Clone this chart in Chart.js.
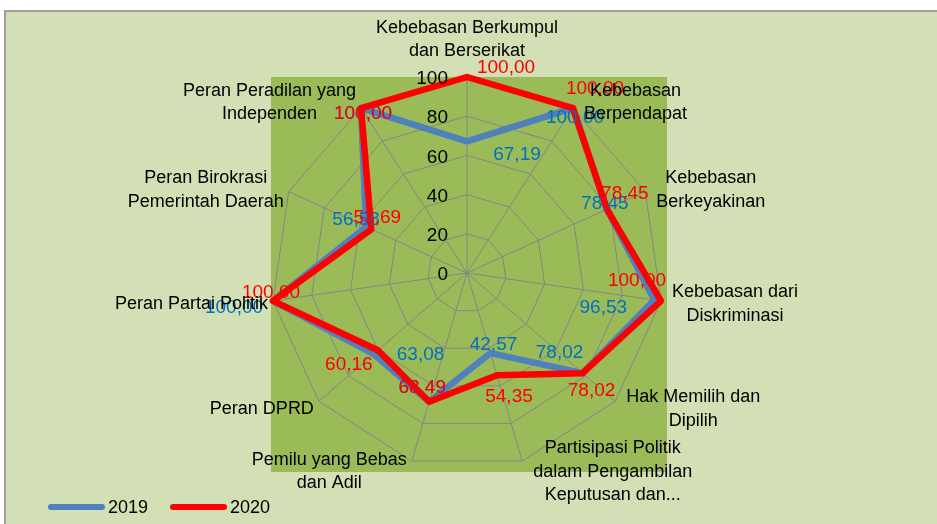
<!DOCTYPE html>
<html>
<head>
<meta charset="utf-8">
<script src="https://cdn.jsdelivr.net/npm/chart.js@4/dist/chart.umd.min.js"></script>
<style>
  html, body { margin: 0; padding: 0; background: #ffffff; }
  #wrap { width: 937px; height: 524px; }
</style>
</head>
<body>
<div id="wrap"><canvas id="radarChart" width="937" height="524"></canvas></div>
<script>
// categories (clockwise from the top), split into lines as in the original
const categories = [
  ['Kebebasan Berkumpul', 'dan Berserikat'],
  ['Kebebasan', 'Berpendapat'],
  ['Kebebasan', 'Berkeyakinan'],
  ['Kebebasan dari', 'Diskriminasi'],
  ['Hak Memilih dan', 'Dipilih'],
  ['Partisipasi Politik', 'dalam Pengambilan', 'Keputusan dan...'],
  ['Pemilu yang Bebas', 'dan Adil'],
  ['Peran DPRD'],
  ['Peran Partai Politik'],
  ['Peran Birokrasi', 'Pemerintah Daerah'],
  ['Peran Peradilan yang', 'Independen'],
];
const values2019 = [67.19, 100, 78.45, 96.53, 78.02, 42.57, 68.49, 63.08, 100, 56.58, 100];
const values2020 = [100, 100, 78.45, 100, 78.02, 54.35, 68.49, 60.16, 100, 53.69, 100];
const tickValues = [0, 20, 40, 60, 80, 100];

const FONT = "'Liberation Sans', Arial, sans-serif";
const PANEL_BG = '#d3dfb4';
const PLOT_BG = '#9bbb59';
const GRID = '#868686';

// where each value label sits relative to its point (Excel placed them by hand)
const labelShift2019 = [[50, 13], [2, 10], [-2, -5], [-51, 8], [-23, -20], [3, -8], [-7, -14], [47, 1], [-39, 7], [-10, -7], [2, 6]];
const labelShift2020 = [[39, -9], [22, -19], [18, -15], [-24, -20], [9, 18], [12, 22], [-7, -14], [-29, 15], [-2, -8], [6, -12], [2, 6]];

const fmt = v => v.toFixed(2).replace('.', ',');

const backgroundPlugin = {
  id: 'background',
  beforeDraw(chart) {
    const { ctx, chartArea: a } = chart;
    ctx.save();
    ctx.fillStyle = '#ffffff';
    ctx.fillRect(0, 0, chart.width, chart.height);
    ctx.fillStyle = PANEL_BG;
    ctx.fillRect(6, 12, chart.width - 6, chart.height - 12);
    ctx.strokeStyle = '#a0a0a0';
    ctx.lineWidth = 2;
    ctx.beginPath();
    ctx.moveTo(5, chart.height);
    ctx.lineTo(5, 11);
    ctx.lineTo(chart.width, 11);
    ctx.stroke();
    ctx.fillStyle = PLOT_BG;
    ctx.fillRect(a.left, a.top, a.width + 4, a.height + 3);
    ctx.restore();
  },
};

const labelsPlugin = {
  id: 'excelLabels',
  afterDatasetsDraw(chart) {
    const { ctx } = chart;
    const r = chart.scales.r;
    ctx.save();

    // axis tick numbers, left of the vertical spoke
    ctx.font = '19px ' + FONT;
    ctx.fillStyle = '#000000';
    ctx.textAlign = 'right';
    ctx.textBaseline = 'middle';
    r.ticks.forEach(t => {
      const d = r.getDistanceFromCenterForValue(t.value);
      ctx.fillText(String(t.value), r.xCenter - 19, r.yCenter - d + 2);
    });

    // value labels, 2019 first so 2020 ends up on top
    ctx.textAlign = 'center';
    chart.data.datasets.forEach((ds, di) => {
      const meta = chart.getDatasetMeta(di);
      ctx.fillStyle = ds.labelColor;
      meta.data.forEach((pt, i) => {
        const s = ds.labelShift[i];
        ctx.fillText(fmt(ds.data[i]), pt.x + s[0], pt.y + s[1]);
      });
    });

    // category labels
    ctx.font = '18px ' + FONT;
    ctx.fillStyle = '#000000';
    const lh = 23.5;
    chart.data.labels.forEach((lines, i) => {
      const p = r.getPointPosition(i, r.drawingArea);
      const ang = r.getIndexAngle(i) - Math.PI / 2;
      const c = Math.cos(ang), sn = Math.sin(ang);
      const w = Math.max(...lines.map(l => ctx.measureText(l).width));
      const h = lines.length * lh;
      let cx, top;
      if (Math.abs(c) < 0.05) {
        cx = p.x;
        top = p.y - 14 - h;
      } else {
        cx = c > 0 ? p.x + 11 + w / 2 : p.x - 5 - w / 2;
        top = p.y + sn * 9 + 2 - h / 2;
      }
      lines.forEach((l, k) => ctx.fillText(l, cx, top + lh * (k + 0.5)));
    });

    // legend
    let x = 48;
    const y = 507;
    ctx.textAlign = 'left';
    ctx.lineCap = 'round';
    chart.data.datasets.forEach(ds => {
      ctx.strokeStyle = ds.borderColor;
      ctx.lineWidth = 6;
      ctx.beginPath();
      ctx.moveTo(x + 3, y);
      ctx.lineTo(x + 54, y);
      ctx.stroke();
      ctx.fillStyle = '#000000';
      ctx.fillText(ds.label, x + 60, y + 1);
      x += 122;
    });
    ctx.restore();
  },
};

new Chart(document.getElementById('radarChart').getContext('2d'), {
  type: 'radar',
  data: {
    labels: categories,
    datasets: [
      {
        label: '2019',
        data: values2019,
        borderColor: '#4f81bd',
        borderWidth: 6.5,
        labelColor: '#0070c0',
        labelShift: labelShift2019,
        order: 1,
      },
      {
        label: '2020',
        data: values2020,
        borderColor: '#ff0000',
        borderWidth: 6.5,
        labelColor: '#ff0000',
        labelShift: labelShift2020,
        order: 0,
      },
    ],
  },
  options: {
    responsive: false,
    animation: false,
    devicePixelRatio: 1,
    layout: {
      padding: { left: 271, right: 274, top: 77, bottom: 55 },
    },
    elements: {
      line: { fill: false, tension: 0, borderJoinStyle: 'round' },
      point: { radius: 0, hoverRadius: 0 },
    },
    scales: {
      r: {
        min: 0,
        max: 100,
        beginAtZero: true,
        afterBuildTicks: scale => {
          scale.ticks = tickValues.map(v => ({ value: v }));
        },
        ticks: { display: false },
        grid: { color: GRID, lineWidth: 1, circular: false },
        angleLines: { color: GRID, lineWidth: 1 },
        pointLabels: { display: false },
      },
    },
    plugins: {
      legend: { display: false },
      tooltip: { enabled: false },
      title: { display: false },
    },
  },
  plugins: [backgroundPlugin, labelsPlugin],
});
</script>
</body>
</html>
